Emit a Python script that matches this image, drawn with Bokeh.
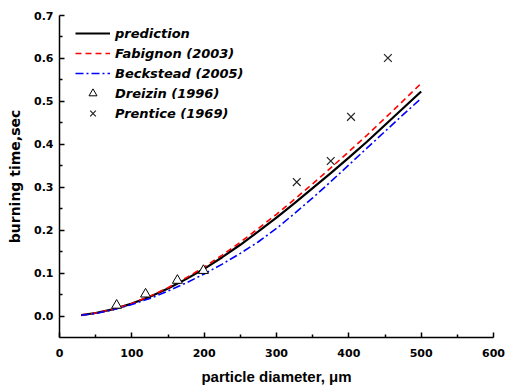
from bokeh.plotting import figure
from bokeh.models import FixedTicker, PrintfTickFormatter, Legend, LegendItem, Range1d
from bokeh.embed import file_html
from bokeh.resources import INLINE

# ---- data ----
diam = [30, 50, 75, 100, 125, 150, 175, 200, 225, 250, 275, 300, 325, 350, 375, 400, 425, 450, 475, 500]
prediction = [0.002, 0.007, 0.016, 0.029, 0.045, 0.064, 0.086, 0.110, 0.137, 0.166, 0.197, 0.229,
              0.263, 0.298, 0.333, 0.369, 0.406, 0.445, 0.484, 0.523]
fabignon = [0.002, 0.007, 0.016, 0.029, 0.046, 0.066, 0.089, 0.114, 0.142, 0.172, 0.204, 0.237,
            0.272, 0.308, 0.345, 0.383, 0.421, 0.461, 0.501, 0.542]
beckstead = [0.002, 0.006, 0.015, 0.027, 0.041, 0.058, 0.077, 0.098, 0.121, 0.146, 0.173, 0.204,
             0.239, 0.275, 0.313, 0.352, 0.391, 0.430, 0.469, 0.507]
dreizin_x = [79, 119, 163, 199]
dreizin_y = [0.025, 0.051, 0.083, 0.106]
prentice_x = [328, 375, 403, 454]
prentice_y = [0.312, 0.361, 0.464, 0.601]
x_ticks = [0, 100, 200, 300, 400, 500, 600]
x_minor = [50, 150, 250, 350, 450, 550]
y_ticks = [0.0, 0.1, 0.2, 0.3, 0.4, 0.5, 0.6, 0.7]
y_minor = [0.05, 0.15, 0.25, 0.35, 0.45, 0.55, 0.65]

p = figure(width=506, height=389, output_backend="svg", toolbar_location=None,
           x_range=Range1d(0, 600), y_range=Range1d(-0.05, 0.7),
           min_border_left=59, min_border_right=13, min_border_top=15, min_border_bottom=52)
p.outline_line_color = None
p.xgrid.visible = False
p.ygrid.visible = False
p.background_fill_color = "white"

r_pred = p.line(diam, prediction, line_color="black", line_width=2.2)
r_fab = p.line(diam, fabignon, line_color="#ff0000", line_width=1.6, line_dash="6 4")
r_beck = p.line(diam, beckstead, line_color="#0000ff", line_width=1.6, line_dash="8 3 2 3")
r_dre = p.scatter(dreizin_x, dreizin_y, marker="triangle", size=10, fill_color="white",
                  line_color="black", line_width=1)
r_pre = p.scatter(prentice_x, prentice_y, marker="x", size=11, line_color="#222222", line_width=1.2)

for ax in (p.xaxis[0], p.yaxis[0]):
    ax.axis_line_width = 1.5
    ax.axis_line_color = "black"
    ax.major_tick_in = 5
    ax.major_tick_out = 0
    ax.minor_tick_in = 3
    ax.minor_tick_out = 0
    ax.major_tick_line_width = 1.5
    ax.minor_tick_line_width = 1.5
    ax.major_tick_line_color = "black"
    ax.minor_tick_line_color = "black"
    ax.major_label_text_font = "DejaVu Sans"
    ax.major_label_text_font_style = "bold"
    ax.major_label_text_font_size = "11px"
    ax.major_label_text_color = "black"
    ax.axis_label_text_font_style = "bold"
    ax.axis_label_text_color = "black"

p.xaxis.ticker = FixedTicker(ticks=x_ticks, minor_ticks=x_minor)
p.yaxis.ticker = FixedTicker(ticks=y_ticks, minor_ticks=y_minor)
p.yaxis.formatter = PrintfTickFormatter(format="%.1f")
p.xaxis.major_label_standoff = 11
p.yaxis.major_label_standoff = 6

p.xaxis.axis_label = "particle diameter, \u03bcm"
p.xaxis.axis_label_text_font = "Liberation Sans"
p.xaxis.axis_label_text_font_size = "15px"
p.xaxis.axis_label_standoff = 8
p.yaxis.axis_label = "burning time,sec"
p.yaxis.axis_label_text_font = "DejaVu Sans"
p.yaxis.axis_label_text_font_size = "14px"
p.yaxis.axis_label_standoff = 8

legend = Legend(items=[
    LegendItem(label="prediction", renderers=[r_pred]),
    LegendItem(label="Fabignon (2003)", renderers=[r_fab]),
    LegendItem(label="Beckstead (2005)", renderers=[r_beck]),
    LegendItem(label="Dreizin (1996)", renderers=[r_dre]),
    LegendItem(label="Prentice (1969)", renderers=[r_pre]),
], location=(16, 214))
legend.label_text_font = "DejaVu Sans"
legend.label_text_font_style = "bold italic"
legend.label_text_font_size = "13px"
legend.label_text_color = "black"
legend.glyph_width = 35
legend.glyph_height = 20
legend.label_height = 20
legend.label_standoff = 5
legend.spacing = 0
legend.padding = 0
legend.margin = 0
legend.border_line_alpha = 0
legend.background_fill_alpha = 0
p.add_layout(legend)

open("out.html", "w").write(file_html(p, INLINE))
